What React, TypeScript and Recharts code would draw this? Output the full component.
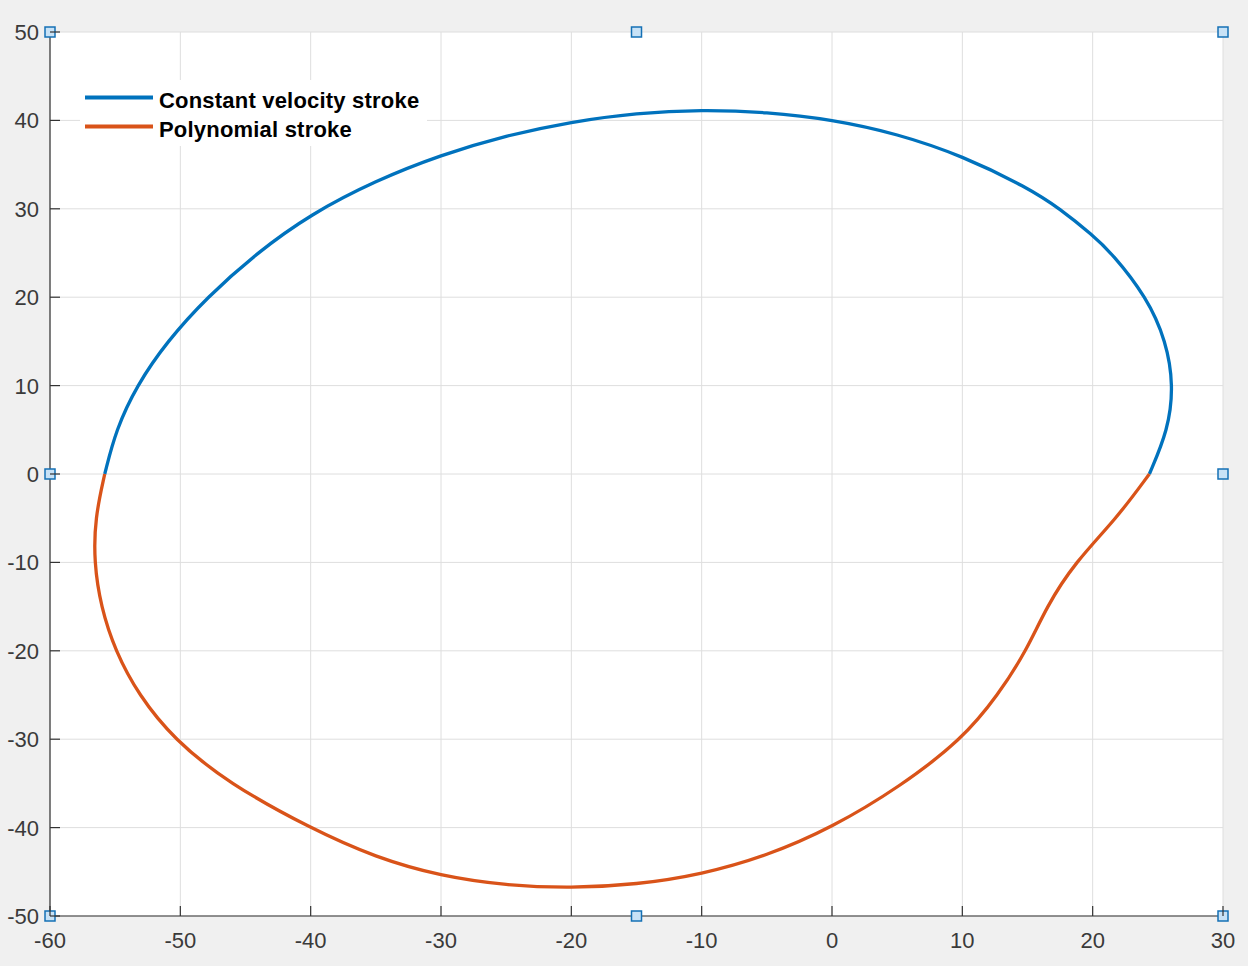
import React from 'react';
import { ComposedChart, Line, Scatter, XAxis, YAxis, CartesianGrid, Legend } from 'recharts';

const xTicks = [-60, -50, -40, -30, -20, -10, 0, 10, 20, 30];
const yTicks = [-50, -40, -30, -20, -10, 0, 10, 20, 30, 40, 50];

const constantVelocity = [
  { x: -55.8, y: 0 },
  { x: -54.94, y: 5 },
  { x: -53.35, y: 10 },
  { x: -51.02, y: 15 },
  { x: -47.95, y: 20 },
  { x: -44.14, y: 25 },
  { x: -40, y: 29.4 },
  { x: -35, y: 33.2 },
  { x: -30, y: 36.1 },
  { x: -25, y: 38.3 },
  { x: -20, y: 39.85 },
  { x: -15, y: 40.85 },
  { x: -10, y: 41.2 },
  { x: -5, y: 40.95 },
  { x: 0, y: 40.1 },
  { x: 5, y: 38.5 },
  { x: 10, y: 36.0 },
  { x: 15, y: 32.4 },
  { x: 17.5, y: 30 },
  { x: 20, y: 27.0 },
  { x: 21.46, y: 25 },
  { x: 24.15, y: 20 },
  { x: 25.65, y: 15 },
  { x: 26.2, y: 10 },
  { x: 25.8, y: 5 },
  { x: 24.35, y: 0 },
];

const polynomial = [
  { x: -55.8, y: 0 },
  { x: -56.55, y: -5 },
  { x: -56.62, y: -10 },
  { x: -56.1, y: -15 },
  { x: -55.0, y: -20 },
  { x: -53.2, y: -25 },
  { x: -50.5, y: -30 },
  { x: -46.3, y: -35 },
  { x: -40, y: -40.1 },
  { x: -35, y: -43.4 },
  { x: -30, y: -45.5 },
  { x: -25, y: -46.55 },
  { x: -20, y: -46.85 },
  { x: -15, y: -46.45 },
  { x: -10, y: -45.3 },
  { x: -5, y: -43.2 },
  { x: 0, y: -40.0 },
  { x: 5.2, y: -35.4 },
  { x: 10, y: -30 },
  { x: 12.74, y: -25 },
  { x: 14.92, y: -20 },
  { x: 16.46, y: -15 },
  { x: 18.64, y: -10 },
  { x: 21.85, y: -5 },
  { x: 24.35, y: 0 },
];

const handles = [
  { x: -60, y: 50 },
  { x: -15, y: 50 },
  { x: 30, y: 50 },
  { x: -60, y: 0 },
  { x: 30, y: 0 },
  { x: -60, y: -50 },
  { x: -15, y: -50 },
  { x: 30, y: -50 },
];

const seriesNames = ['Constant velocity stroke', 'Polynomial stroke'];
const seriesColors = ['#0072BD', '#D95319'];

const AX = '#333333';
const TXT = '#3a3a3a';
const FONT = '"Liberation Sans", Arial, Helvetica, sans-serif';
const TICK_LEN = 10;
const TICK_FS = 22;

const BottomTick = (props: any) => {
  const { x, y, payload } = props;
  return (
    <g>
      <line x1={x} y1={y} x2={x} y2={y - TICK_LEN} stroke={AX} strokeWidth={1.2} />
      <text x={x} y={y + 32} textAnchor="middle" fontSize={TICK_FS} fill={TXT} fontFamily={FONT}>
        {payload.value}
      </text>
    </g>
  );
};

const TopTick = (props: any) => {
  const { x, y } = props;
  return <line x1={x} y1={y} x2={x} y2={y + TICK_LEN} stroke={AX} strokeWidth={1.2} />;
};

const LeftTick = (props: any) => {
  const { x, y, payload } = props;
  return (
    <g>
      <line x1={x} y1={y} x2={x + TICK_LEN} y2={y} stroke={AX} strokeWidth={1.2} />
      <text x={x - 11} y={y + 8} textAnchor="end" fontSize={TICK_FS} fill={TXT} fontFamily={FONT}>
        {payload.value}
      </text>
    </g>
  );
};

const RightTick = (props: any) => {
  const { x, y } = props;
  return <line x1={x} y1={y} x2={x - TICK_LEN} y2={y} stroke={AX} strokeWidth={1.2} />;
};

const HandleShape = (props: any) => {
  const { cx, cy } = props;
  return (
    <rect x={cx - 5} y={cy - 5} width={10} height={10} fill="#c8e2f6" stroke="#1470b5" strokeWidth={1.5} />
  );
};

const LegendBox = () => (
  <svg width={347} height={66} style={{ display: 'block' }}>
    <rect x={0} y={0} width={347} height={66} fill="#ffffff" />
    {seriesNames.map((name, i) => (
      <g key={name}>
        <line x1={5} y1={17.5 + i * 29} x2={73} y2={17.5 + i * 29} stroke={seriesColors[i]} strokeWidth={4} />
        <text x={79} y={28 + i * 29} fontSize={22} letterSpacing={0.2} fontWeight="bold" fill="#000" fontFamily={FONT}>
          {name}
        </text>
      </g>
    ))}
  </svg>
);

export default function App() {
  return (
    <div style={{ position: 'absolute', left: 0, top: 0, width: 1248, height: 966, background: '#f0f0f0' }}>
      <ComposedChart width={1248} height={966} margin={{ top: 32, right: 25, bottom: 0, left: 0 }}>
        <CartesianGrid stroke="#dedede" strokeWidth={1} fill="#ffffff" />
        <XAxis
          xAxisId={0}
          dataKey="x"
          type="number"
          domain={[-60, 30]}
          ticks={xTicks}
          interval={0}
          height={50}
          tickSize={0}
          tickMargin={0}
          tickLine={false}
          axisLine={{ stroke: AX, strokeWidth: 1.2 }}
          tick={<BottomTick />}
        />
        <XAxis
          xAxisId="top"
          orientation="top"
          dataKey="x"
          type="number"
          domain={[-60, 30]}
          ticks={xTicks}
          interval={0}
          height={0}
          tickSize={0}
          tickMargin={0}
          tickLine={false}
          axisLine={{ stroke: AX, strokeWidth: 1.2 }}
          tick={<TopTick />}
        />
        <YAxis
          yAxisId={0}
          type="number"
          domain={[-50, 50]}
          ticks={yTicks}
          interval={0}
          width={50}
          tickSize={0}
          tickMargin={0}
          tickLine={false}
          axisLine={{ stroke: AX, strokeWidth: 1.2 }}
          tick={<LeftTick />}
        />
        <YAxis
          yAxisId="right"
          orientation="right"
          type="number"
          domain={[-50, 50]}
          ticks={yTicks}
          interval={0}
          width={0}
          tickSize={0}
          tickMargin={0}
          tickLine={false}
          axisLine={{ stroke: AX, strokeWidth: 1.2 }}
          tick={<RightTick />}
        />
        <Line
          data={constantVelocity}
          dataKey="y"
          name={seriesNames[0]}
          type="basis"
          stroke={seriesColors[0]}
          strokeWidth={3.3}
          dot={false}
          activeDot={false}
          isAnimationActive={false}
        />
        <Line
          data={polynomial}
          dataKey="y"
          name={seriesNames[1]}
          type="basis"
          stroke={seriesColors[1]}
          strokeWidth={3.3}
          dot={false}
          activeDot={false}
          isAnimationActive={false}
        />
        <Scatter
          data={handles}
          dataKey="y"
          shape={<HandleShape />}
          legendType="none"
          isAnimationActive={false}
        />
        <Legend
          layout="vertical"
          align="center"
          verticalAlign="middle"
          wrapperStyle={{ position: 'absolute', left: 80, top: 80, width: 347, height: 66 }}
          content={() => <LegendBox />}
        />
      </ComposedChart>
    </div>
  );
}
